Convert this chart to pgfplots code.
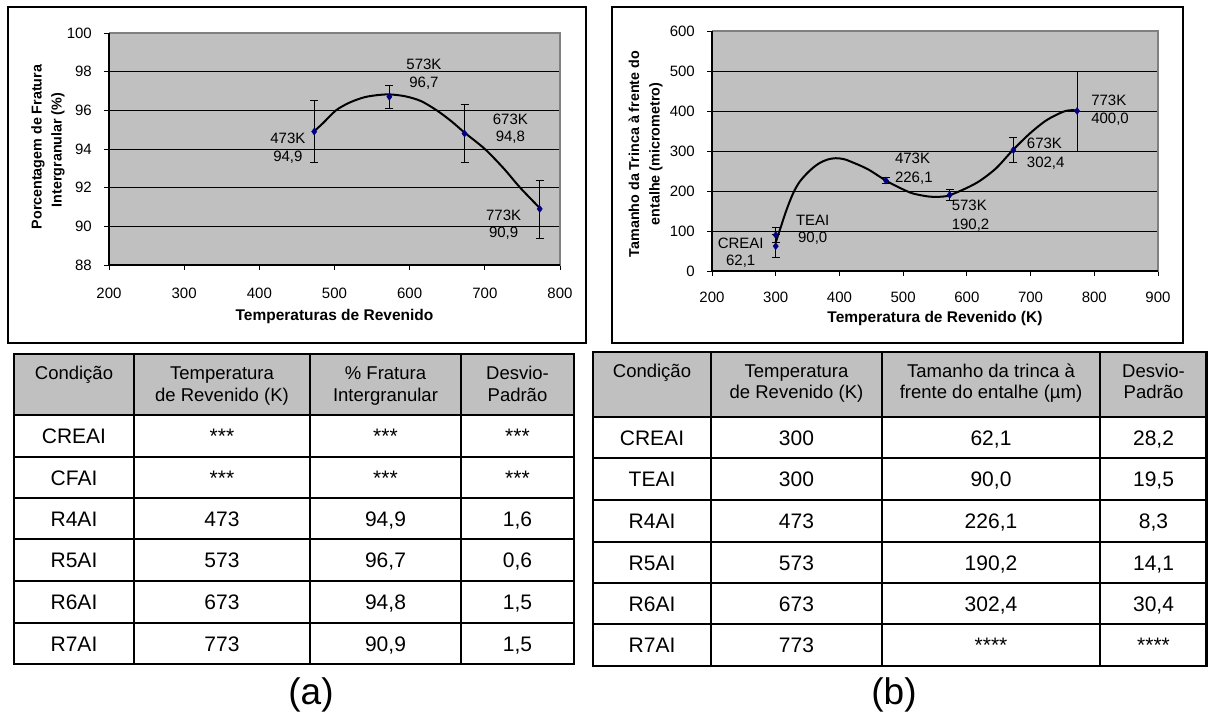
\documentclass[border=0pt]{standalone}
\usepackage{fontspec}
\setmainfont{Liberation Sans}
\usepackage{pgfplots}
\pgfplotsset{compat=1.18}
\definecolor{bgc}{HTML}{C0C0C0}
\definecolor{navy}{HTML}{000080}
\definecolor{brd}{HTML}{808080}
\newcommand{\fs}[2]{\fontsize{#1}{#2}\selectfont}
\pgfplotsset{
 excel/.style={
  scale only axis,
  axis background/.style={fill=bgc},
  axis line style={draw=brd, line width=0.9pt},
  ymajorgrids, major grid style={black, line width=0.9pt},
  xtick pos=left, ytick pos=left, tick align=outside, major tick length=5pt,
  tick style={black, line width=0.9pt},
  /pgf/number format/assume math mode=true,
  tick label style={font=\fs{15}{18}},
  xticklabel style={anchor=center},
  yticklabel style={anchor=east, inner sep=0pt, xshift=-12pt},
  after end axis/.code={
    \draw[brd, line width=1.1pt] (rel axis cs:0,1) -- (rel axis cs:1,1) -- (rel axis cs:1,0);
    \draw[black, line width=1.1pt] (rel axis cs:0,1) -- (rel axis cs:0,0) -- (rel axis cs:1,0);},
  clip=false,
 },
 errpts/.style={navy, only marks, mark=diamond*, mark size=3.5pt,
  error bars/.cd, y dir=both, y explicit,
  error bar style={black, line width=0.8pt},
  error mark options={rotate=90, black, mark size=4pt, line width=0.8pt}},
}
\tikzset{
 lbl/.style={align=center, inner sep=0pt, font=\fs{15}{17.5}},
 lblr/.style={align=left, inner sep=0pt, anchor=west, font=\fs{15}{18.5}},
}
\newcommand{\cellt}[3]{\node[anchor=base, inner sep=0pt, font=\fs{21}{25}] at (#1pt,-#2pt) {#3};}
\newcommand{\cellh}[3]{\node[anchor=base, inner sep=0pt, font=\fs{18.5}{22}] at (#1pt,-#2pt) {#3};}
\begin{document}
\begin{tikzpicture}
\useasboundingbox (0,0) rectangle (1208pt,-713pt);
\fill[white] (0,0) rectangle (1208pt,-713pt);
% chart frames
\draw[line width=1.2pt] (8pt,-7pt) rectangle (586pt,-343pt);
\draw[line width=1.2pt] (612pt,-7pt) rectangle (1183pt,-343pt);

% ---------------- chart (a)
\begin{axis}[excel, at={(109pt,-265pt)}, anchor=south west, width=451pt, height=232pt,
  xmin=200, xmax=800, ymin=88, ymax=100,
  xtick={200,300,...,800}, ytick={88,90,...,100},
  xticklabel style={yshift=-23pt}]
\addplot[black, line width=2pt, smooth, no marks] coordinates {
 (473,94.92) (485,95.35) (502,96.0) (520,96.4) (540,96.68) (560,96.8) (575,96.82)
 (595,96.72) (615,96.48) (636,96.0) (655,95.45) (673,94.85) (700,94.0) (725,93.0)
 (747,92.0) (773,90.95)};
\addplot[errpts]
 coordinates {(473,94.9) +- (0,1.6) (573,96.7) +- (0,0.6) (673,94.8) +- (0,1.5) (773,90.9) +- (0,1.5)};
\node[lbl] at (axis cs:438,94.03) {473K\\94,9};
\node[lbl] at (axis cs:619,97.88) {573K\\96,7};
\node[lbl] at (axis cs:734,95.06) {673K\\94,8};
\node[lbl] at (axis cs:725,90.08) {773K\\90,9};
\end{axis}
\node[font=\bfseries\fs{15.5}{18}] at (334.5pt,-316pt) {Temperaturas de Revenido};
\node[rotate=90, font=\bfseries\fs{14.3}{17}] at (38pt,-147pt) {Porcentagem de Fratura};
\node[rotate=90, font=\bfseries\fs{14.3}{17}] at (58pt,-150pt) {Intergranular (\%)};

% ---------------- chart (b)
\begin{axis}[excel, at={(712pt,-271pt)}, anchor=south west, width=446pt, height=240pt,
  xmin=200, xmax=900, ymin=0, ymax=600,
  xtick={200,300,...,900}, ytick={0,100,...,600},
  xticklabel style={yshift=-21pt}]
\addplot[black, line width=2pt, smooth, no marks] coordinates {
 (300,72) (307,105) (315,144) (323,178) (330,203) (338,224) (349,244) (360,260)
 (370,271) (382,279) (394,282) (406,280) (417,274) (444,255) (473,226) (496,207)
 (515,194) (541,186) (562,186) (574,190) (599,207) (620,225) (646,257) (672,302)
 (699,344) (725,377) (751,398) (764,402) (775,401)};
\addplot[errpts]
 coordinates {(300,62.1) +- (0,28.2) (300,90.0) +- (0,19.5) (473,226.1) +- (0,8.3)
   (573,190.2) +- (0,14.1) (673,302.4) +- (0,30.4) (773,400.0) +- (0,100)};
\node[lbl] at (axis cs:245,46) {CREAI\\62,1};
\node[lbl] at (axis cs:358,103) {TEAI\\90,0};
\node[lblr] at (axis cs:487,256) {473K\\226,1};
\node[lblr] at (axis cs:576,138) {573K\\190,2};
\node[lblr] at (axis cs:694,293) {673K\\302,4};
\node[lblr] at (axis cs:795,402) {773K\\400,0};
\end{axis}
\node[font=\bfseries\fs{15.5}{18}] at (935pt,-318pt) {Temperatura de Revenido (K)};
\node[rotate=90, font=\bfseries\fs{14.3}{17}] at (634pt,-154pt) {Tamanho da Trinca à frente do};
\node[rotate=90, font=\bfseries\fs{14.3}{17}] at (656pt,-154pt) {entalhe (micrometro)};

% ---------------- table (a)
\fill[bgc] (14pt,-354pt) rectangle (574pt,-415pt);
\begin{scope}[line width=2.5pt, line cap=rect]
\foreach \y in {354,415,457,498,539,581,623,664} \draw (14pt,-\y pt) -- (574pt,-\y pt);
\foreach \x in {14,134,310,461,574} \draw (\x pt,-354pt) -- (\x pt,-664pt);
\end{scope}
\cellh{74}{379.6}{Condição}
\cellh{222}{379.6}{Temperatura}\cellh{222}{401.6}{de Revenido (K)}
\cellh{385.5}{379.6}{\% Fratura}\cellh{385.5}{401.6}{Intergranular}
\cellh{517.5}{379.6}{Desvio-}\cellh{517.5}{401.6}{Padrão}
\cellt{74}{443.5}{CREAI}\cellt{222}{443.5}{***}\cellt{385.5}{443.5}{***}\cellt{517.5}{443.5}{***}
\cellt{74}{485}{CFAI}\cellt{222}{485}{***}\cellt{385.5}{485}{***}\cellt{517.5}{485}{***}
\cellt{74}{526}{R4AI}\cellt{222}{526}{473}\cellt{385.5}{526}{94,9}\cellt{517.5}{526}{1,6}
\cellt{74}{567.5}{R5AI}\cellt{222}{567.5}{573}\cellt{385.5}{567.5}{96,7}\cellt{517.5}{567.5}{0,6}
\cellt{74}{609.5}{R6AI}\cellt{222}{609.5}{673}\cellt{385.5}{609.5}{94,8}\cellt{517.5}{609.5}{1,5}
\cellt{74}{651}{R7AI}\cellt{222}{651}{773}\cellt{385.5}{651}{90,9}\cellt{517.5}{651}{1,5}

% ---------------- table (b)
\fill[bgc] (593pt,-352pt) rectangle (1206.5pt,-417pt);
\begin{scope}[line width=2.5pt, line cap=rect]
\foreach \y in {352,417,458,500,542,583,624,666} \draw (593pt,-\y pt) -- (1206.5pt,-\y pt);
\foreach \x in {593,711,882,1100,1206.5} \draw (\x pt,-352pt) -- (\x pt,-666pt);
\end{scope}
\cellh{652}{377.3}{Condição}
\cellh{796.5}{377.3}{Temperatura}\cellh{796.5}{398.3}{de Revenido (K)}
\cellh{991}{377.3}{Tamanho da trinca à}\cellh{991}{398.3}{frente do entalhe (µm)}
\cellh{1153.5}{377.3}{Desvio-}\cellh{1153.5}{398.3}{Padrão}
\cellt{652}{445}{CREAI}\cellt{796.5}{445}{300}\cellt{991}{445}{62,1}\cellt{1153.5}{445}{28,2}
\cellt{652}{486.5}{TEAI}\cellt{796.5}{486.5}{300}\cellt{991}{486.5}{90,0}\cellt{1153.5}{486.5}{19,5}
\cellt{652}{528.5}{R4AI}\cellt{796.5}{528.5}{473}\cellt{991}{528.5}{226,1}\cellt{1153.5}{528.5}{8,3}
\cellt{652}{570}{R5AI}\cellt{796.5}{570}{573}\cellt{991}{570}{190,2}\cellt{1153.5}{570}{14,1}
\cellt{652}{611}{R6AI}\cellt{796.5}{611}{673}\cellt{991}{611}{302,4}\cellt{1153.5}{611}{30,4}
\cellt{652}{652.5}{R7AI}\cellt{796.5}{652.5}{773}\cellt{991}{652.5}{****}\cellt{1153.5}{652.5}{****}

% captions
\node[font=\fs{37}{40}] at (311pt,-695pt) {(a)};
\node[font=\fs{37}{40}] at (894pt,-695pt) {(b)};
\end{tikzpicture}
\end{document}
